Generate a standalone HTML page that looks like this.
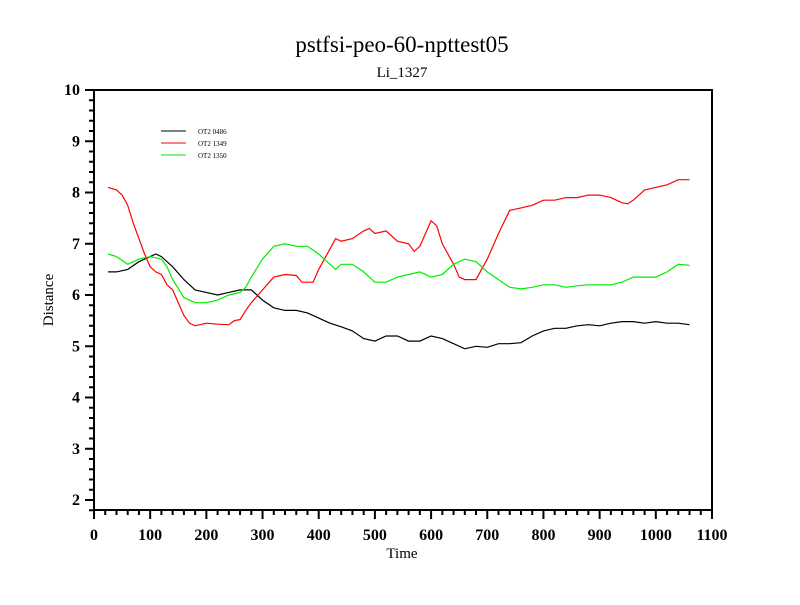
<!DOCTYPE html>
<html><head><meta charset="utf-8"><style>
html,body{margin:0;padding:0;background:#fff;}
svg text{font-family:"Liberation Serif",serif;}
</style></head><body>
<svg id="chart" width="800" height="600" xmlns="http://www.w3.org/2000/svg">
<rect width="800" height="600" fill="#fff"/>
<text x="402" y="52" font-size="23" text-anchor="middle">pstfsi-peo-60-npttest05</text>
<text x="402" y="77" font-size="15" text-anchor="middle">Li_1327</text>
<text x="402" y="558" font-size="15" text-anchor="middle">Time</text>
<text transform="translate(53,300) rotate(-90)" font-size="15" text-anchor="middle">Distance</text>
<g id="axes"></g>
<g id="series"></g>
<g id="legend"></g>
</svg>
<script>
const blackX=[25,40,60,80,100,110,120,140,160,180,200,220,240,260,280,300,320,340,360,380,400,420,440,460,480,500,520,540,560,580,600,620,640,660,680,700,720,740,760,780,800,820,840,860,880,900,920,940,960,980,1000,1020,1040,1060];
const blackY=[6.45,6.45,6.5,6.65,6.75,6.8,6.75,6.55,6.3,6.1,6.05,6.0,6.05,6.1,6.1,5.9,5.75,5.7,5.7,5.65,5.55,5.45,5.38,5.3,5.15,5.1,5.2,5.2,5.1,5.1,5.2,5.15,5.05,4.95,5.0,4.98,5.05,5.05,5.07,5.2,5.3,5.35,5.35,5.4,5.42,5.4,5.45,5.48,5.48,5.45,5.48,5.45,5.45,5.42];
const redX=[25,40,50,60,70,80,90,100,110,120,130,140,150,160,170,180,200,220,240,250,260,270,280,300,320,340,360,370,390,400,420,430,440,460,480,490,500,520,540,560,570,580,600,610,620,640,650,660,680,700,720,740,760,780,800,820,840,860,880,900,920,940,950,960,980,1000,1020,1040,1060];
const redY=[8.1,8.05,7.95,7.75,7.4,7.1,6.8,6.55,6.45,6.4,6.2,6.1,5.85,5.6,5.45,5.4,5.45,5.43,5.42,5.5,5.52,5.7,5.85,6.1,6.35,6.4,6.38,6.25,6.25,6.5,6.9,7.1,7.05,7.1,7.25,7.3,7.2,7.25,7.05,7.0,6.85,6.95,7.45,7.35,7.0,6.6,6.35,6.3,6.3,6.7,7.2,7.65,7.7,7.75,7.85,7.85,7.9,7.9,7.95,7.95,7.9,7.8,7.78,7.85,8.05,8.1,8.15,8.25,8.25];
const greenX=[25,40,60,80,100,120,130,140,160,180,200,220,240,260,270,280,300,320,340,360,380,400,420,430,440,460,480,500,520,540,560,580,600,620,640,660,680,700,720,740,760,780,800,820,840,860,880,900,920,940,960,980,1000,1020,1040,1060];
const greenY=[6.8,6.75,6.6,6.7,6.75,6.7,6.55,6.3,5.95,5.85,5.85,5.9,6.0,6.05,6.15,6.35,6.7,6.95,7.0,6.95,6.95,6.8,6.6,6.5,6.6,6.6,6.45,6.25,6.25,6.35,6.4,6.45,6.35,6.4,6.6,6.7,6.65,6.45,6.3,6.15,6.12,6.15,6.2,6.2,6.15,6.18,6.2,6.2,6.2,6.25,6.35,6.35,6.35,6.45,6.6,6.58];
const seriesNames=["OT2 0486","OT2 1349","OT2 1350"];
const xTicks=[0,100,200,300,400,500,600,700,800,900,1000,1100];
const yTicks=[2,3,4,5,6,7,8,9,10];

const L=94,R=712,T=90,B=510;
function sx(v){return L+(v-0)/1100*(R-L);}
function sy(v){return 500-(v-2)/8*(500-90);}
const NS="http://www.w3.org/2000/svg";
function mk(tag,attrs,parent){const e=document.createElementNS(NS,tag);for(const k in attrs)e.setAttribute(k,attrs[k]);parent.appendChild(e);return e;}
const axes=document.getElementById('axes');
const frame=mk('rect',{x:L,y:T,width:R-L,height:B-T,fill:'none',stroke:'#000','stroke-width':2},axes);


// x ticks
for(let v=0;v<=1100;v+=20){const major=v%100===0;const x=sx(v);
 mk('line',{x1:x,x2:x,y1:B,y2:B+(major?9:5),stroke:'#000','stroke-width':2},axes);}
xTicks.forEach(v=>{const t=mk('text',{x:sx(v),y:B+30,'font-size':16,'font-weight':'bold','text-anchor':'middle'},axes);t.textContent=v;
 
 });
// y ticks
for(let i=0;i<=40;i++){const v=2+i*0.2;const major=i%5===0;const y=sy(v);
 mk('line',{x1:L,x2:L-(major?9:5),y1:y,y2:y,stroke:'#000','stroke-width':2},axes);}
mk('line',{x1:L,x2:L-5,y1:sy(1.8),y2:sy(1.8),stroke:'#000','stroke-width':2},axes);
yTicks.forEach(v=>{const t=mk('text',{x:L-14,y:sy(v)+5,'font-size':16,'font-weight':'bold','text-anchor':'end'},axes);t.textContent=v;
 
 });
// series
const sg=document.getElementById('series');
const colors=['#000000','#ff0000','#00ee00'];
[[blackX,blackY],[redX,redY],[greenX,greenY]].forEach((s,i)=>{
 const d=s[0].map((x,j)=>(j?'L':'M')+sx(x).toFixed(1)+','+sy(s[1][j]).toFixed(1)).join(' ');
 const p=mk('path',{d:d,fill:'none',stroke:colors[i],'stroke-width':1.2},sg);
 
 
});
// legend
const lg=document.getElementById('legend');
seriesNames.forEach((n,i)=>{const y=131+i*12;
 const g=mk('g',{},lg);
 
 
 mk('line',{x1:161,x2:186,y1:y,y2:y,stroke:colors[i],'stroke-width':1},g);
 const t=mk('text',{x:198,y:y+3,'font-size':7},g);t.textContent=n;});
</script>
</body></html>
